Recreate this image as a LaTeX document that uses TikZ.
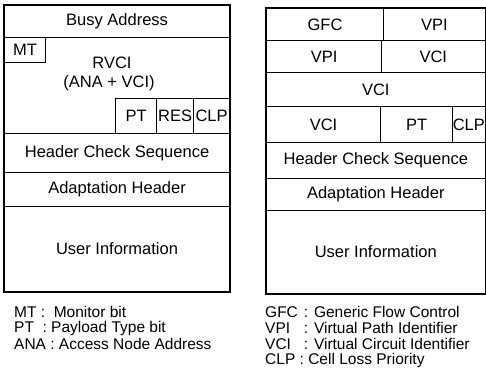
\documentclass[tikz,border=0pt]{standalone}
\usepackage{fontspec}
\setmainfont{Liberation Sans}
\usetikzlibrary{
    positioning
}
\tikzstyle{field} = [
    rectangle,
    draw=black,
    line width=1.1pt,
    inner sep=0pt,
    anchor=north west,
    font=\fontsize{16.5}{18}\selectfont
]
\tikzstyle{fieldtext} = [
    inner sep=0pt,
    font=\fontsize{16.5}{18}\selectfont
]
\tikzstyle{frame} = [
    line width=1.8pt,
    draw=black
]
\tikzstyle{keyline} = [
    inner sep=0pt,
    anchor=west,
    font=\fontsize{15.5}{17}\selectfont
]

\begin{document}
\begin{tikzpicture}[x=1pt, y=-1pt]
    \useasboundingbox (0,0) rectangle (486,379);
    % ---- left cell: access network format
    \node[field, minimum width=225, minimum height=32] (busy) at (4,5) {Busy Address};
    \node[field, minimum width=225, minimum height=96] (rvci) at (4,37) {};
    \node[field, minimum width=41, minimum height=25] (mt) at (4,37) {MT};
    \node[field, minimum width=41, minimum height=35] (ptl) at (115,98) {PT};
    \node[field, minimum width=37, minimum height=35] (res) at (156,98) {RES};
    \node[field, minimum width=36, minimum height=35] (clpl) at (193,98) {CLP};
    \node[fieldtext] (rvcitxt) at (112,63) {RVCI};
    \node[fieldtext] (anatxt) at (109,83) {(ANA + VCI)};
    \node[field, minimum width=225, minimum height=39] (hcsl) at (4,133) {Header Check Sequence};
    \node[field, minimum width=225, minimum height=34] (ahl) at (4,172) {Adaptation Header};
    \node[field, minimum width=225, minimum height=85] (uil) at (4,206) {User Information};
    \draw[frame] (busy.north west) rectangle (uil.south east);

    % ---- right cell: ATM format
    \node[field, minimum width=117, minimum height=32] (gfc) at (266,8) {GFC};
    \node[field, minimum width=101.5, minimum height=32] (vpia) at (383,8) {VPI};
    \node[field, minimum width=115, minimum height=32] (vpib) at (266,40) {VPI};
    \node[field, minimum width=103.5, minimum height=32] (vcia) at (381,40) {VCI};
    \node[field, minimum width=218.5, minimum height=34] (vcib) at (266,72) {VCI};
    \node[field, minimum width=114, minimum height=36] (vcic) at (266,106) {VCI};
    \node[field, minimum width=72, minimum height=36] (ptr) at (380,106) {PT};
    \node[field, minimum width=32.5, minimum height=36] (clpr) at (452,106) {CLP};
    \node[field, minimum width=218.5, minimum height=36] (hcsr) at (266,142) {Header Check Sequence};
    \node[field, minimum width=218.5, minimum height=32] (ahr) at (266,178) {Adaptation Header};
    \node[field, minimum width=218.5, minimum height=83] (uir) at (266,210) {User Information};
    \draw[frame] (gfc.north west) rectangle (uir.south east);

    % ---- abbreviations
    \node[keyline] (kmt) at (14,312) {MT :\ \ Monitor bit};
    \node[keyline] (kpt) at (14,328) {PT\ \ : Payload Type bit};
    \node[keyline] (kana) at (14,344) {ANA : Access Node Address};
    \node[keyline] (kgfc) at (265,312) {\makebox[2.5em][l]{GFC}: Generic Flow Control};
    \node[keyline] (kvpi) at (265,328) {\makebox[2.5em][l]{VPI}: Virtual Path Identifier};
    \node[keyline] (kvci) at (265,344) {\makebox[2.5em][l]{VCI}: Virtual Circuit Identifier};
    \node[keyline] (kclp) at (265,360) {CLP : Cell Loss Priority};
\end{tikzpicture}
\end{document}
